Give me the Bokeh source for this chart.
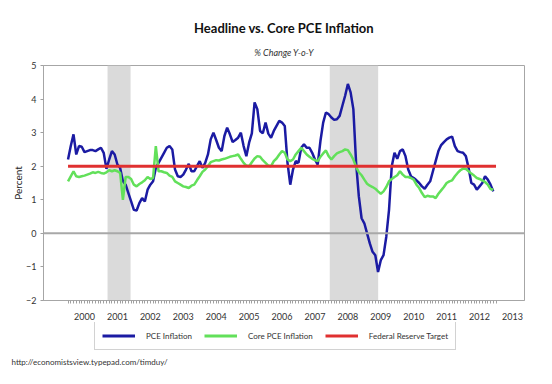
from bokeh.plotting import figure
from bokeh.layouts import column
from bokeh.models import (Legend, LegendItem, Span, Title, FixedTicker, Range1d,
                          BoxAnnotation, CustomJSTickFormatter)
from bokeh.embed import file_html
from bokeh.resources import INLINE

FONT = "Lato"

# Monthly year-over-year % change, Jan 2000 .. Dec 2012
start_year = 2000
pce = [2.20, 2.60, 2.95, 2.35, 2.60, 2.58, 2.42, 2.45, 2.48, 2.48, 2.45, 2.50,
       2.55, 2.40, 1.92, 2.20, 2.45, 2.35, 2.05, 1.95, 1.55, 1.45, 1.20, 0.95,
       0.70, 0.68, 0.90, 1.05, 0.95, 1.30, 1.45, 1.55, 1.95, 2.10, 2.25, 2.40,
       2.55, 2.60, 2.50, 1.90, 1.70, 1.68, 1.75, 1.90, 2.07, 1.85, 1.85, 2.00,
       2.15, 1.95, 2.10, 2.35, 2.80, 3.00, 2.78, 2.55, 2.45, 2.90, 3.15, 2.95,
       2.72, 2.78, 2.85, 3.00, 2.60, 2.30, 2.70, 2.98, 3.90, 3.70, 3.05, 2.98,
       3.30, 2.97, 2.85, 3.05, 3.20, 3.35, 3.30, 3.20, 2.10, 1.45, 1.90, 2.15,
       2.10, 2.55, 2.65, 2.55, 2.55, 2.40, 2.20, 2.05, 2.75, 3.30, 3.60, 3.55,
       3.45, 3.38, 3.40, 3.50, 3.80, 4.10, 4.45, 4.20, 3.70, 2.10, 1.10, 0.45,
       0.30, 0.00, -0.30, -0.55, -0.65, -1.15, -0.80, -0.65, -0.10, 0.70, 2.00, 2.40,
       2.22, 2.45, 2.50, 2.30, 1.90, 1.70, 1.65, 1.58, 1.50, 1.40, 1.33, 1.45,
       1.55, 1.85, 2.15, 2.45, 2.63, 2.72, 2.80, 2.85, 2.88, 2.60, 2.45, 2.42,
       2.40, 2.30, 1.95, 1.50, 1.45, 1.30, 1.40, 1.50, 1.70, 1.60, 1.45, 1.25]
core = [1.55, 1.70, 1.85, 1.70, 1.68, 1.70, 1.72, 1.75, 1.78, 1.82, 1.80, 1.83,
        1.80, 1.78, 1.82, 1.88, 1.85, 1.88, 1.85, 1.80, 1.00, 1.68, 1.68, 1.62,
        1.45, 1.40, 1.47, 1.52, 1.58, 1.68, 1.62, 1.65, 2.60, 1.85, 1.85, 1.82,
        1.80, 1.72, 1.68, 1.55, 1.50, 1.45, 1.40, 1.38, 1.35, 1.42, 1.45, 1.58,
        1.70, 1.83, 1.90, 2.00, 2.12, 2.15, 2.18, 2.17, 2.20, 2.22, 2.25, 2.28,
        2.30, 2.32, 2.35, 2.22, 2.10, 2.02, 2.00, 2.12, 2.23, 2.30, 2.28, 2.18,
        2.10, 2.02, 2.00, 2.15, 2.23, 2.35, 2.45, 2.40, 2.20, 2.15, 2.20, 2.35,
        2.45, 2.55, 2.45, 2.35, 2.28, 2.22, 2.18, 2.15, 2.28, 2.38, 2.47, 2.30,
        2.20, 2.30, 2.38, 2.42, 2.45, 2.50, 2.48, 2.35, 2.20, 1.98, 1.82, 1.73,
        1.60, 1.48, 1.42, 1.38, 1.33, 1.25, 1.18, 1.25, 1.38, 1.55, 1.62, 1.68,
        1.73, 1.85, 1.75, 1.68, 1.68, 1.65, 1.60, 1.45, 1.35, 1.20, 1.08, 1.12,
        1.10, 1.10, 1.05, 1.18, 1.28, 1.38, 1.50, 1.55, 1.58, 1.70, 1.80, 1.88,
        1.93, 1.92, 1.85, 1.78, 1.72, 1.65, 1.62, 1.58, 1.53, 1.45, 1.32, 1.30]
target_x = [2000.0, 2013.0]
target_y = [2.0, 2.0]
recession_start = [2001.2, 2007.95]
recession_end = [2001.9, 2009.42]
year_labels = list(range(2000, 2014))
y_ticks = [-2, -1, 0, 1, 2, 3, 4, 5]

dates = [start_year + i / 12 for i in range(len(pce))]

BLUE, GREEN, RED = "#1b1ba3", "#62e05a", "#e03030"

p = figure(width=536, height=322, output_backend="svg", toolbar_location=None,
           x_range=Range1d(1999.255, 2013.865), y_range=Range1d(-2, 5),
           min_border_left=43, min_border_right=12, min_border_top=65,
           min_border_bottom=22)

p.xgrid.visible = False
p.ygrid.visible = False
p.outline_line_color = "#a6a6a6"
p.outline_line_width = 1

for a, b in zip(recession_start, recession_end):
    p.add_layout(BoxAnnotation(left=a, right=b, fill_color="#dadada",
                               fill_alpha=1.0, line_color=None, level="underlay"))

p.add_layout(Span(location=0, dimension="width", line_color="#a8a8a8",
                  line_width=2))

r_pce = p.line(dates, pce, line_color=BLUE, line_width=2.5)
r_core = p.line(dates, core, line_color=GREEN, line_width=2.5)
r_fed = p.line(target_x, target_y, line_color=RED, line_width=3)

# x axis: labels mid-year, monthly minor ticks
p.xaxis.ticker = FixedTicker(ticks=[y + 0.5 for y in year_labels],
                             minor_ticks=[2000 + k / 12 for k in range(157)])
p.xaxis.formatter = CustomJSTickFormatter(code="return Math.floor(tick).toString();")
p.xaxis.major_tick_line_color = None
p.xaxis.minor_tick_in = 0
p.xaxis.minor_tick_out = 3
p.xaxis.minor_tick_line_color = "#a0a0a0"
p.xaxis.axis_line_color = "#a6a6a6"
p.xaxis.major_label_text_font = FONT
p.xaxis.major_label_text_font_size = "9px"
p.xaxis.major_label_text_color = "#333333"
p.xaxis.major_label_standoff = 6

p.yaxis.ticker = FixedTicker(ticks=y_ticks)
p.yaxis.minor_tick_line_color = None
p.yaxis.major_tick_in = 0
p.yaxis.major_tick_out = 3
p.yaxis.major_tick_line_color = "#a0a0a0"
p.yaxis.axis_line_color = "#a6a6a6"
p.yaxis.major_label_text_font = FONT
p.yaxis.major_label_text_font_size = "9px"
p.yaxis.major_label_text_color = "#333333"
p.yaxis.major_label_standoff = 4
p.yaxis.axis_label = "Percent"
p.yaxis.axis_label_text_font = FONT
p.yaxis.axis_label_text_font_size = "10px"
p.yaxis.axis_label_text_font_style = "normal"
p.yaxis.axis_label_text_color = "#222222"
p.yaxis.axis_label_standoff = -1

p.title.text = "Headline vs. Core PCE Inflation"
p.title.align = "center"
p.title.text_font = FONT
p.title.text_font_size = "13px"
p.title.text_font_style = "bold"
p.title.text_color = "#111111"
p.title.standoff = 4

sub = Title(text="% Change Y-o-Y", align="center", text_font=FONT,
            text_font_size="9px", text_font_style="italic",
            text_color="#333333", standoff=15)
p.add_layout(sub, "above")

# bottom strip: legend box and source note (its frame lines up with the chart's)
p2 = figure(width=536, height=50, output_backend="svg", toolbar_location=None,
            x_range=Range1d(43, 524), y_range=Range1d(32, 0),
            x_axis_type=None, y_axis_type=None,
            min_border_left=0, min_border_right=0, min_border_top=0,
            min_border_bottom=18)
p2.outline_line_color = None
# same series, outside this strip's ranges: they only feed the legend swatches
l_pce = p2.line(dates, pce, line_color=BLUE, line_width=3)
l_core = p2.line(dates, core, line_color=GREEN, line_width=3)
l_fed = p2.line(target_x, target_y, line_color=RED, line_width=3)

legend = Legend(items=[LegendItem(label="PCE Inflation", renderers=[l_pce]),
                       LegendItem(label="Core PCE Inflation", renderers=[l_core]),
                       LegendItem(label="Federal Reserve Target", renderers=[l_fed])],
                orientation="horizontal", location=(51, 4),
                border_line_color="#a6a6a6", border_line_width=1,
                label_text_font=FONT, label_text_font_size="8px",
                label_text_color="#333333",
                glyph_width=33, glyph_height=13, label_height=13,
                label_standoff=11, spacing=12, padding=7, margin=0)
p2.add_layout(legend, "center")

footer = Title(text="http://economistsview.typepad.com/timduy/", align="left",
               text_font=FONT, text_font_size="8px", text_font_style="normal",
               text_color="#333333", offset=-32, standoff=1)
p2.add_layout(footer, "below")

open("out.html", "w").write(file_html(column(p, p2), INLINE))
